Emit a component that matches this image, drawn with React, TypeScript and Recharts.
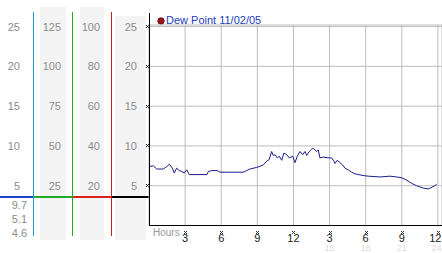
import React from 'react';
import { ComposedChart, Line, XAxis, YAxis, CartesianGrid } from 'recharts';

const hours = [
  0.0, 0.36, 0.64, 1.19, 1.47, 1.69, 1.94, 2.1, 2.3, 2.52, 2.72, 2.93, 3.13, 3.35, 4.82, 4.93, 5.21, 5.67, 5.9,
  7.83, 8.11, 8.39, 8.95, 9.49, 9.78, 9.99, 10.19, 10.32, 10.47, 10.66, 10.82, 11.02, 11.21, 11.44, 11.65, 11.94,
  12.13, 12.32, 12.54, 12.77, 12.96, 13.1, 13.31, 13.51, 13.65, 13.79, 13.93, 14.06, 14.2, 14.48, 14.89, 15.17,
  15.31, 15.45, 15.64, 15.86, 16.09, 16.28, 16.55, 16.84, 17.11, 17.38, 17.94, 18.21, 19.19, 20.02, 20.57, 20.99,
  21.4, 21.82, 22.23, 22.78, 23.2, 23.48, 23.75, 23.9,
];
const dewPoint = [
  7.4, 7.5, 7.1, 7.1, 7.4, 7.7, 7.2, 6.6, 7.2, 6.9, 6.8, 6.6, 7.0, 6.4, 6.4, 6.8, 6.9, 6.9, 6.7,
  6.7, 6.9, 7.1, 7.3, 7.6, 8.1, 8.3, 9.3, 8.8, 8.9, 8.5, 8.7, 8.2, 9.1, 8.9, 8.5, 8.7,
  7.9, 8.7, 9.3, 8.9, 9.3, 8.8, 9.3, 9.6, 9.7, 9.5, 9.3, 9.5, 8.5, 8.6, 8.5, 8.5,
  8.2, 7.8, 8.2, 7.9, 7.6, 7.2, 7.0, 6.7, 6.5, 6.4, 6.25, 6.2, 6.1, 6.2, 6.1, 6.0,
  5.7, 5.3, 5.0, 4.7, 4.6, 4.8, 5.0, 5.2,
];

const xTicks = [3, 6, 9, 12, 15, 18, 21, 24];
const xTickLabels = ['3', '6', '9', '12', '3', '6', '9', '12'];
const xTickLabels24 = ['', '', '', '', '15', '18', '21', '24'];
const yTicksMain = [5, 10, 15, 20, 25];
const yTicksCol2 = [25, 50, 75, 100, 125];
const yTicksCol3 = [20, 40, 60, 80, 100];
const statLabels = ['9.7', '5.1', '4.6'];
const seriesName = 'Dew Point 11/02/05';
const hoursLabel = 'Hours';

const data = hours.map((h, i) => ({ hour: h, dew: dewPoint[i] }));

const FONT = '"Liberation Sans", Arial, sans-serif';

const Marker = ({ px, py }: { px: number; py: number }) => (
  <g fill="#333">
    <rect x={px - 1} y={py - 1} width={1} height={1} />
    <rect x={px + 1} y={py - 1} width={1} height={1} />
    <rect x={px} y={py} width={1} height={1} />
    <rect x={px - 1} y={py + 1} width={1} height={1} />
    <rect x={px + 1} y={py + 1} width={1} height={1} />
  </g>
);

const makeYTick = (margin: number, marker: boolean) => (props: any) => {
  const { x, y, payload } = props;
  return (
    <g>
      <text x={x} y={y} dy={4} textAnchor="end" fill="#8c8c8c" fontSize={11} fontFamily={FONT}>
        {payload.value}
      </text>
      {marker ? <Marker px={Math.round(x + margin - 2)} py={Math.floor(y)} /> : null}
    </g>
  );
};

const XTick = (props: any) => {
  const { x, y, payload, index } = props;
  const i = xTicks.indexOf(payload.value);
  const idx = i >= 0 ? i : index;
  const last = idx === xTicks.length - 1;
  const tx = last ? 441.5 : x;
  const anchor = last ? 'end' : 'middle';
  return (
    <g>
      <Marker px={Math.round(x)} py={Math.round(y + 6)} />
      <text x={tx} y={y + 16.5} textAnchor={anchor} fill="#222" fontSize={11} fontFamily={FONT}>
        {xTickLabels[idx]}
      </text>
      <text x={tx} y={y + 25} textAnchor={anchor} fill="#dcdcdc" fontSize={9} fontFamily={FONT}>
        {xTickLabels24[idx]}
      </text>
    </g>
  );
};

const abs = (s: React.CSSProperties): React.CSSProperties => ({ position: 'absolute', ...s });

export default function App() {
  return (
    <div style={abs({ left: 0, top: 0, width: 442, height: 253, background: '#fff', fontFamily: FONT, overflow: 'hidden' })}>
      <div style={abs({ left: 40, top: 7, width: 26, height: 233, background: '#f4f4f4' })} />
      <div style={abs({ left: 80, top: 7, width: 24, height: 233, background: '#f4f4f4' })} />
      <div style={abs({ left: 115, top: 16, width: 31, height: 224, background: '#f4f4f4' })} />

      <div style={abs({ left: 0, top: 196, width: 33, height: 2, background: '#1f3fd0' })} />
      <div style={abs({ left: 33, top: 196, width: 39, height: 2, background: '#22aa22' })} />
      <div style={abs({ left: 72, top: 196, width: 39, height: 2, background: '#dd2020' })} />
      <div style={abs({ left: 111, top: 196, width: 38, height: 2, background: '#000' })} />

      {statLabels.map((s, i) => (
        <div
          key={s + i}
          style={abs({ left: 0, width: 27, top: 199 + i * 14, textAlign: 'right', fontSize: 11, lineHeight: '12px', color: '#8c8c8c' })}
        >
          {s}
        </div>
      ))}

      <div style={abs({ left: 153, top: 227, fontSize: 10, lineHeight: '11px', color: '#999' })}>{hoursLabel}</div>

      <div style={abs({ left: 157, top: 14, display: 'flex', alignItems: 'center', fontSize: 11, lineHeight: '13px', color: '#2040c0', whiteSpace: 'nowrap' })}>
        <svg width={8} height={8} style={{ marginRight: 1 }}>
          <circle cx={4} cy={4} r={3.2} fill="#a01818" stroke="#400" strokeWidth={0.8} />
        </svg>
        <span>{seriesName}</span>
      </div>

      <div style={abs({ left: 0, top: 0 })}>
        <ComposedChart width={442} height={253} data={data} margin={{ top: 25, right: 0, bottom: 0, left: 0 }}>
          <CartesianGrid yAxisId="a" stroke="#bdbdbd" strokeWidth={1} />
          <XAxis
            type="number"
            dataKey="hour"
            domain={[0, 24.34]}
            ticks={xTicks}
            height={27.5}
            axisLine={{ stroke: '#000' }}
            tickLine={false}
            tickSize={0}
            tickMargin={0}
            tick={<XTick />}
            interval={0}
          />
          <YAxis yAxisId="a" width={38} domain={[0, 25.2]} ticks={yTicksMain} axisLine={false} tickLine={false} tickSize={0} tickMargin={12} tick={makeYTick(12, true)} interval={0} />
          <YAxis yAxisId="b" width={39} domain={[0, 100.8]} ticks={yTicksCol3} axisLine={false} tickLine={false} tickSize={0} tickMargin={11} tick={makeYTick(11, false)} interval={0} />
          <YAxis yAxisId="c" width={39} domain={[0, 126]} ticks={yTicksCol2} axisLine={false} tickLine={false} tickSize={0} tickMargin={11} tick={makeYTick(11, false)} interval={0} />
          <YAxis yAxisId="d" width={33} domain={[0, 25.2]} ticks={yTicksMain} axisLine={false} tickLine={false} tickSize={0} tickMargin={13} tick={makeYTick(13, false)} interval={0} />
          <Line yAxisId="b" dataKey="dew" stroke="none" dot={false} activeDot={false} legendType="none" isAnimationActive={false} />
          <Line yAxisId="c" dataKey="dew" stroke="none" dot={false} activeDot={false} legendType="none" isAnimationActive={false} />
          <Line yAxisId="d" dataKey="dew" stroke="none" dot={false} activeDot={false} legendType="none" isAnimationActive={false} />
          <Line yAxisId="a" type="linear" dataKey="dew" stroke="#1c1c8c" strokeWidth={1} dot={false} isAnimationActive={false} />
        </ComposedChart>
      </div>

      <div style={abs({ left: 33, top: 12, width: 1, height: 224, background: '#20a0d0' })} />
      <div style={abs({ left: 72, top: 12, width: 1, height: 224, background: '#22aa22' })} />
      <div style={abs({ left: 111, top: 12, width: 1, height: 224, background: '#cc2020' })} />
      <div style={abs({ left: 149, top: 13, width: 1, height: 213, background: '#000' })} />
    </div>
  );
}
